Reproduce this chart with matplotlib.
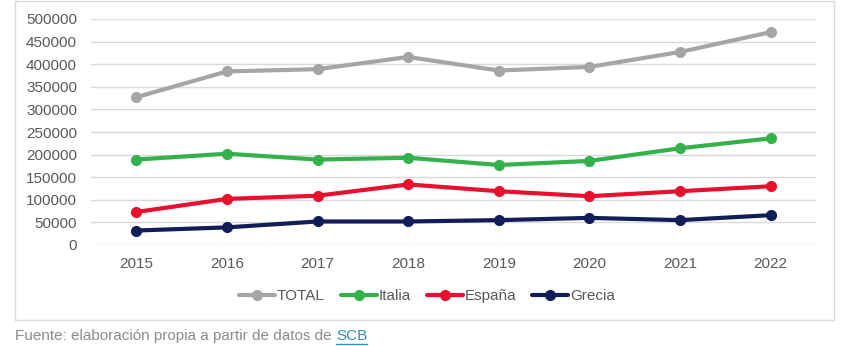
import matplotlib
matplotlib.use("Agg")
import matplotlib.pyplot as plt
from matplotlib.patches import Rectangle

years = ["2015", "2016", "2017", "2018", "2019", "2020", "2021", "2022"]
total = [327000, 384000, 389000, 416000, 386000, 394000, 427000, 471000]
italia = [189000, 202000, 189000, 193000, 177000, 186000, 214000, 236000]
espana = [73000, 102000, 109000, 134000, 119000, 108000, 119000, 130000]
grecia = [32000, 39000, 52000, 52000, 55000, 60000, 55000, 66000]
series_names = ["TOTAL", "Italia", "España", "Grecia"]
colors = ["#a5a5a5", "#33b24b", "#e8102c", "#111d58"]
yticks = [0, 50000, 100000, 150000, 200000, 250000, 300000, 350000, 400000, 450000, 500000]

plt.rcParams['font.family'] = ['Liberation Sans', 'DejaVu Sans']
W, H = 856, 346
fig = plt.figure(figsize=(W / 100, H / 100), dpi=100)

# outer frame
fig.patches.append(Rectangle((15 / W, 1 - 320 / H), (834 - 15) / W, (319) / H,
                             transform=fig.transFigure, fill=False,
                             edgecolor="#d9d9d9", linewidth=1))

ax = fig.add_axes([91 / W, 1 - 245 / H, (816 - 91) / W, (245 - 19) / H])
x = list(range(len(years)))
for vals, name, c in zip([total, italia, espana, grecia], series_names, colors):
    ax.plot(x, vals, color=c, linewidth=3, marker="o", markersize=7,
            label=name, solid_capstyle="round")

ax.set_xlim(-0.5, len(years) - 0.5)
ax.set_ylim(0, 500000)
ax.set_yticks(yticks)
ax.set_yticklabels([str(v) for v in yticks])
ax.set_xticks(x)
ax.set_xticklabels(years)
ax.grid(axis="y", color="#d9d9d9", linewidth=1)
ax.set_axisbelow(True)
for s in ax.spines.values():
    s.set_visible(False)
ax.tick_params(axis="both", length=0, labelsize=11, colors="#595959")
ax.tick_params(axis="x", pad=9)
ax.tick_params(axis="y", pad=10)

leg = fig.legend(loc="center", bbox_to_anchor=(427 / W, 1 - 296 / H), ncol=4,
                 frameon=False, fontsize=11, handlelength=2.35, handletextpad=0.13,
                 columnspacing=1.05, labelcolor="#595959")

fig.text(15 / W, 1 - 336 / H, "Fuente: elaboración propia a partir de datos de ",
         fontsize=11, color="#8c8c8c", va="center", ha="left")
fig.canvas.draw()
r = fig.canvas.get_renderer()
first = fig.texts[0]
bb = first.get_window_extent(r)
fig.text(bb.x1 / W, 1 - 336 / H, "SCB", fontsize=11, color="#2e8fb0",
         va="center", ha="left")
bb2 = fig.texts[-1].get_window_extent(r)
fig.add_artist(plt.Line2D([bb2.x0 / W, bb2.x1 / W], [(bb2.y0 - 1) / H] * 2,
                          transform=fig.transFigure, color="#2e8fb0", linewidth=1))

fig.savefig("out.png", dpi=100)
